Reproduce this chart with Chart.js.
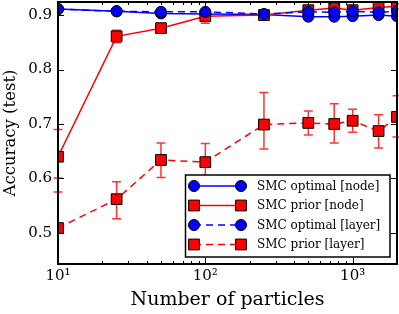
<!DOCTYPE html>
<html>
<head>
<meta charset="utf-8">
<script src="https://cdn.jsdelivr.net/npm/chart.js@4/dist/chart.umd.min.js"></script>
<style>
  html, body { margin: 0; padding: 0; background: #fff; }
</style>
</head>
<body>
<canvas id="myChart" width="399" height="314"></canvas>
<script>
const particles = [10, 25, 50, 100, 250, 500, 750, 1000, 1500, 2000]

const optimalNode = [0.911, 0.907, 0.903, 0.902, 0.901, 0.897, 0.897, 0.898, 0.900, 0.898]
const optimalLayer = [0.911, 0.907, 0.906, 0.906, 0.902, 0.906, 0.905, 0.907, 0.905, 0.907]

const priorNode = [0.640, 0.861, 0.876, 0.898, 0.900, 0.909, 0.913, 0.909, 0.914, 0.916]
const priorNodeLow = [0.601, 0.849, 0.870, 0.885, 0.896, 0.904, 0.908, 0.904, 0.910, 0.911]
const priorNodeHigh = [0.690, 0.872, 0.882, 0.910, 0.904, 0.914, 0.918, 0.914, 0.918, 0.921]

const priorLayer = [0.509, 0.562, 0.634, 0.630, 0.699, 0.702, 0.700, 0.706, 0.687, 0.713]
const priorLayerLow = [0.430, 0.526, 0.602, 0.596, 0.654, 0.680, 0.665, 0.685, 0.656, 0.676]
const priorLayerHigh = [0.575, 0.594, 0.665, 0.664, 0.758, 0.724, 0.737, 0.727, 0.717, 0.752]

const yTickValues = [0.5, 0.6, 0.7, 0.8, 0.9]
const xTickValues = [10, 100, 1000]
const xTickLabels = ['10¹', '10²', '10³']
const xMinorTicks = [20, 30, 40, 50, 60, 70, 80, 90, 200, 300, 400, 500, 600, 700, 800, 900, 2000]

const toPoints = (ys) => ys.map((y, i) => ({ x: particles[i], y: y }))

const BLUE = '#0000ff'
const RED = '#ff0000'
const DASH = [7, 5]

const makeSet = (label, ys, color, style, dashed, order) => ({
  label: label,
  data: toPoints(ys),
  borderColor: color,
  backgroundColor: color,
  borderWidth: 1.5,
  borderDash: dashed ? DASH : [],
  pointStyle: style,
  pointRadius: style === 'rect' ? 7.6 : 5.5,
  pointBorderColor: '#000',
  pointBorderWidth: 1,
  pointBackgroundColor: color,
  tension: 0,
  clip: 0,
  order: order,
})

const datasets = [
  makeSet('SMC optimal [node]', optimalNode, BLUE, 'circle', false, 4),
  Object.assign(makeSet('SMC prior [node]', priorNode, RED, 'rect', false, 3), { errLow: priorNodeLow, errHigh: priorNodeHigh }),
  makeSet('SMC optimal [layer]', optimalLayer, BLUE, 'circle', true, 2),
  Object.assign(makeSet('SMC prior [layer]', priorLayer, RED, 'rect', true, 1), { errLow: priorLayerLow, errHigh: priorLayerHigh }),
]

// error bars, drawn under the markers (clipped top/bottom only)
const errorBars = {
  id: 'errorBars',
  beforeDatasetsDraw(chart) {
    const ctx = chart.ctx
    const a = chart.chartArea
    const xs = chart.scales.x, ys = chart.scales.y
    ctx.save()
    ctx.beginPath()
    ctx.rect(0, a.top, chart.width, a.bottom - a.top)
    ctx.clip()
    ctx.strokeStyle = 'rgba(255,0,0,0.8)'
    ctx.lineWidth = 1.5
    chart.data.datasets.forEach((ds) => {
      if (!ds.errLow) return
      ds.errLow.forEach((lo, i) => {
        const x = xs.getPixelForValue(particles[i])
        const y1 = ys.getPixelForValue(lo)
        const y2 = ys.getPixelForValue(ds.errHigh[i])
        ctx.beginPath()
        ctx.moveTo(x, y1); ctx.lineTo(x, y2)
        ctx.moveTo(x - 4.5, y1); ctx.lineTo(x + 4.5, y1)
        ctx.moveTo(x - 4.5, y2); ctx.lineTo(x + 4.5, y2)
        ctx.stroke()
      })
    })
    ctx.restore()
  }
}

// frame and inward ticks on all four sides
const frame = {
  id: 'frame',
  afterDatasetsDraw(chart) {
    const ctx = chart.ctx
    const a = chart.chartArea
    const xs = chart.scales.x, ys = chart.scales.y
    ctx.save()
    ctx.strokeStyle = '#000'
    ctx.lineWidth = 1
    ctx.beginPath()
    yTickValues.forEach((v) => {
      const y = Math.round(ys.getPixelForValue(v)) + 0.5
      ctx.moveTo(a.left, y); ctx.lineTo(a.left + 6, y)
      ctx.moveTo(a.right, y); ctx.lineTo(a.right - 6, y)
    })
    xTickValues.forEach((v) => {
      const x = Math.round(xs.getPixelForValue(v)) + 0.5
      ctx.moveTo(x, a.bottom); ctx.lineTo(x, a.bottom - 6)
      ctx.moveTo(x, a.top); ctx.lineTo(x, a.top + 6)
    })
    xMinorTicks.forEach((v) => {
      const x = Math.round(xs.getPixelForValue(v)) + 0.5
      if (x > a.right) return
      ctx.moveTo(x, a.bottom); ctx.lineTo(x, a.bottom - 3)
      ctx.moveTo(x, a.top); ctx.lineTo(x, a.top + 3)
    })
    ctx.stroke()
    ctx.lineWidth = 2
    ctx.strokeRect(a.left, a.top, a.right - a.left, a.bottom - a.top)
    ctx.restore()
  }
}

function drawMarker(ctx, ds, x, y) {
  ctx.beginPath()
  if (ds.pointStyle === 'rect') {
    ctx.rect(x - 5.4, y - 5.4, 10.8, 10.8)
  } else {
    ctx.arc(x, y, 5.5, 0, Math.PI * 2)
  }
  ctx.fillStyle = ds.pointBackgroundColor
  ctx.fill()
  ctx.lineWidth = 1
  ctx.strokeStyle = '#000'
  ctx.stroke()
}

// matplotlib style legend box in the lower right
const boxLegend = {
  id: 'boxLegend',
  afterDraw(chart) {
    const ctx = chart.ctx
    const bx = 185.5, by = 175, bw = 204.5, bh = 82
    ctx.save()
    ctx.fillStyle = '#fff'
    ctx.fillRect(bx, by, bw, bh)
    ctx.lineWidth = 1.5
    ctx.strokeStyle = '#000'
    ctx.strokeRect(bx, by, bw, bh)
    chart.data.datasets.forEach((ds, i) => {
      const y = by + 11 + i * 19.5
      ctx.beginPath()
      ctx.setLineDash(ds.borderDash)
      ctx.strokeStyle = ds.borderColor
      ctx.lineWidth = 1.5
      ctx.moveTo(194, y); ctx.lineTo(241, y)
      ctx.stroke()
      ctx.setLineDash([])
      drawMarker(ctx, ds, 194, y)
      drawMarker(ctx, ds, 241, y)
      ctx.fillStyle = '#000'
      ctx.font = '12px "DejaVu Serif"'
      ctx.textBaseline = 'middle'
      ctx.textAlign = 'left'
      ctx.fillText(ds.label, 257, y + 0.5)
    })
    ctx.restore()
  }
}

const noPadding = (scale) => {
  scale.paddingTop = 0
  scale.paddingBottom = 0
  scale.paddingLeft = 0
  scale.paddingRight = 0
}

Chart.defaults.font.family = '"DejaVu Serif", serif'
Chart.defaults.color = '#000'

const ctx = document.getElementById('myChart')
const chart = new Chart(ctx, {
  type: 'line',
  data: { datasets: datasets },
  options: {
    responsive: false,
    animation: false,
    layout: { autoPadding: false, padding: { top: 2, right: 2, left: 0, bottom: 0 } },
    plugins: {
      legend: { display: false },
      tooltip: { enabled: false },
    },
    scales: {
      x: {
        type: 'logarithmic',
        min: 10,
        max: 2000,
        grid: { display: false, drawTicks: false },
        border: { display: false },
        afterBuildTicks: (scale) => { scale.ticks = xTickValues.map((v) => ({ value: v })) },
        afterFit: (scale) => { scale.height = 50; noPadding(scale) },
        ticks: {
          autoSkip: false,
          maxRotation: 0,
          padding: 3,
          font: { size: 15 },
          callback: (v) => xTickLabels[xTickValues.indexOf(v)] || '',
        },
        title: {
          display: true,
          text: 'Number of particles',
          font: { size: 19 },
          padding: { top: 0, bottom: 3 },
        },
      },
      y: {
        type: 'linear',
        min: 0.443,
        max: 0.924,
        grid: { display: false, drawTicks: false },
        border: { display: false },
        afterBuildTicks: (scale) => { scale.ticks = yTickValues.map((v) => ({ value: v })) },
        afterFit: (scale) => { scale.width = 58; noPadding(scale) },
        ticks: {
          padding: 6,
          font: { size: 15 },
          callback: (v) => v.toFixed(1),
        },
        title: {
          display: true,
          text: 'Accuracy (test)',
          font: { size: 16.5 },
          padding: { top: 1, bottom: 0 },
        },
      },
    },
  },
  plugins: [errorBars, frame, boxLegend],
})
</script>
</body>
</html>
